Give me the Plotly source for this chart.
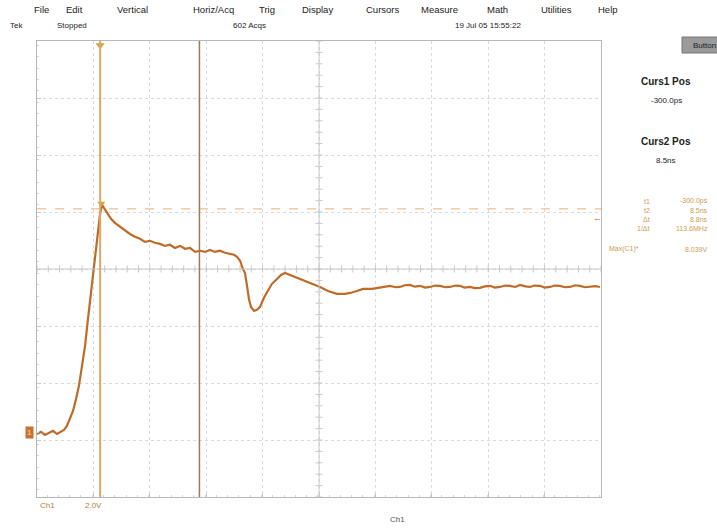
import numpy as np
import plotly.graph_objects as go

# ---------------- data ----------------
time_ns = [-5.9, -5.55, -5.19, -4.84, -4.48, -4.13, -3.77, -3.51, -3.24, -2.97,
           -2.71, -2.44, -2.18, -1.91, -1.64, -1.38, -1.11, -0.85, -0.58, -0.32,
           -0.14, 0.04, 0.31, 0.66, 1.01, 1.46, 1.9, 2.34, 2.79, 3.23,
           3.67, 4.12, 4.56, 5.0, 5.45, 5.89, 6.33, 6.78, 7.22, 7.66,
           8.11, 8.55, 8.99, 9.44, 9.88, 10.32, 10.77, 11.21, 11.56, 11.83,
           12.1, 12.36, 12.54, 12.72, 12.89, 13.07, 13.34, 13.6, 13.87, 14.22,
           14.58, 14.93, 15.38, 15.73, 16.09, 16.53, 17.15, 17.68, 18.3, 18.74,
           19.19, 19.9, 20.7, 21.4, 21.85, 22.47, 23.0, 23.8, 24.51,
           25.0, 25.39, 25.9, 26.28, 26.7, 27.17, 27.6, 28.05, 28.5, 28.94,
           29.4, 29.83, 30.3, 30.71, 31.2, 31.6, 32.0, 32.49, 32.9, 33.37,
           33.8, 34.26, 34.7, 35.14, 35.6, 36.03, 36.5, 36.92, 37.4, 37.8,
           38.2, 38.69, 39.1, 39.58, 40.0, 40.46, 40.9, 41.35, 41.8, 42.23,
           42.7, 43.12, 43.6, 44.0]
volts = [-0.04, 0.04, -0.07, 0.0, 0.07, -0.04, 0.04, 0.1, 0.25, 0.49,
         0.77, 1.19, 1.65, 2.35, 3.05, 4.0, 4.98, 5.96, 6.88, 7.65,
         8.0, 7.89, 7.68, 7.51, 7.37, 7.23, 7.12, 6.98, 6.88, 6.81,
         6.7, 6.74, 6.67, 6.63, 6.56, 6.6, 6.49, 6.56, 6.46, 6.49,
         6.35, 6.39, 6.35, 6.42, 6.35, 6.39, 6.32, 6.28, 6.25, 6.18,
         6.04, 5.75, 5.61, 5.16, 4.7, 4.42, 4.28, 4.32, 4.42, 4.74,
         4.98, 5.23, 5.4, 5.54, 5.61, 5.54, 5.44, 5.37, 5.26, 5.19,
         5.12, 4.98, 4.88, 4.88, 4.91, 4.98, 5.05, 5.05, 5.09,
         5.14, 5.16, 5.11, 5.12, 5.18, 5.19, 5.13, 5.16, 5.1, 5.12,
         5.17, 5.16, 5.11, 5.12, 5.17, 5.16, 5.1, 5.12, 5.08, 5.09,
         5.14, 5.16, 5.1, 5.12, 5.17, 5.16, 5.12, 5.19, 5.14, 5.12,
         5.17, 5.16, 5.1, 5.12, 5.17, 5.16, 5.11, 5.12, 5.18, 5.16,
         5.11, 5.12, 5.15, 5.12]

cursor1_ns = -0.3
cursor2_ns = 8.5
max_level_v = 7.86

menu_items = ["File", "Edit", "Vertical", "Horiz/Acq", "Trig", "Display",
              "Cursors", "Measure", "Math", "Utilities", "Help"]
menu_x = [38, 70, 121, 197, 263, 306, 370, 425, 491, 545, 602]

meas_labels = ["t1", "t2", "Δt", "1/Δt"]
meas_values = ["-300.0ps", "8.5ns", "8.8ns", "113.6MHz"]

# ---------------- layout constants ----------------
W, H = 717, 528
L, R, T, B = 37, 601, 41, 497
X0, X1 = -5.9, 44.1
Y0, Y1 = -2.25, 13.75

TRACE = "#c06a28"
ORANGE = "#e39a3c"
BROWN = "#9b7a5c"
GRID = "#dadada"
TXT = "#222222"
MEAS = "#d09a50"

fig = go.Figure()

# center graticule lines with minor ticks
xc = (X0 + X1) / 2
yc = Y0 + 4 * 2.0
fig.add_shape(type="line", x0=X0, x1=X1, y0=yc, y1=yc, line=dict(color="#c8c8c8", width=1))
fig.add_shape(type="line", x0=xc, x1=xc, y0=Y0, y1=Y1, line=dict(color="#c8c8c8", width=1))
mx = np.arange(X0, X1 + 0.01, 1.0)
my = np.arange(Y0, Y1 + 0.01, 0.4)
fig.add_trace(go.Scatter(x=mx, y=[yc] * len(mx), mode="markers",
                         marker=dict(symbol="line-ns", size=5, line=dict(color="#c8c8c8", width=1)),
                         hoverinfo="skip", showlegend=False))
fig.add_trace(go.Scatter(x=[xc] * len(my), y=my, mode="markers",
                         marker=dict(symbol="line-ew", size=5, line=dict(color="#c8c8c8", width=1)),
                         hoverinfo="skip", showlegend=False))

# max level dashed line
fig.add_shape(type="line", x0=X0, x1=X1, y0=max_level_v, y1=max_level_v,
              line=dict(color="#eab27a", width=1, dash="dash"))

# cursors
fig.add_shape(type="line", x0=cursor1_ns, x1=cursor1_ns, y0=Y0, y1=Y1,
              line=dict(color="#d9a86a", width=2))
fig.add_shape(type="line", x0=cursor2_ns, x1=cursor2_ns, y0=Y0, y1=Y1,
              line=dict(color=BROWN, width=1.5))

# waveform
fig.add_trace(go.Scatter(x=time_ns, y=volts, mode="lines",
                         line=dict(color=TRACE, width=2.2), showlegend=False,
                         hoverinfo="skip"))

# trigger / peak markers
fig.add_trace(go.Scatter(x=[cursor1_ns], y=[Y1 - 0.15], mode="markers",
                         marker=dict(symbol="triangle-down", size=8, color=ORANGE),
                         showlegend=False, hoverinfo="skip"))
fig.add_trace(go.Scatter(x=[cursor1_ns + 0.1], y=[8.05], mode="markers",
                         marker=dict(symbol="triangle-down", size=7, color=ORANGE),
                         showlegend=False, hoverinfo="skip"))

fig.update_xaxes(range=[X0, X1], showgrid=True, gridcolor=GRID, griddash="dot",
                 dtick=5, tick0=X0, zeroline=False, showticklabels=False,
                 showline=True, linecolor="#b8b8b8", mirror=True,
                 ticks="inside", ticklen=4, tickcolor="#c8c8c8",
                 minor=dict(dtick=1, ticks="inside", ticklen=2, tickcolor="#d4d4d4"))
fig.update_yaxes(range=[Y0, Y1], showgrid=True, gridcolor=GRID, griddash="dot",
                 dtick=2, tick0=Y0, zeroline=False, showticklabels=False,
                 showline=True, linecolor="#b8b8b8", mirror=True,
                 ticks="inside", ticklen=4, tickcolor="#c8c8c8",
                 minor=dict(dtick=0.4, ticks="inside", ticklen=2, tickcolor="#d4d4d4"))

ann = []
def txt(x, y, s, size=9, color=TXT, bold=False, anchor="left", font="Liberation Sans"):
    ann.append(dict(xref="paper", yref="paper",
                    x=(x - L) / (R - L), y=(B - y) / (B - T),
                    text=("<b>%s</b>" % s) if bold else s, showarrow=False,
                    xanchor=anchor, yanchor="middle",
                    font=dict(size=size, color=color, family=font)))

for m, x in zip(menu_items, menu_x):
    txt(x - 6, 9, m, size=9.5)
txt(8, 26, "Tek", size=8)
txt(55, 26, "Stopped", size=8)
txt(231, 26, "602 Acqs", size=8)
txt(453, 26, "19 Jul 05 15:55:22", size=8)

txt(666, 81, "Curs1 Pos", size=10, bold=True, anchor="center")
txt(666, 101, "-300.0ps", size=8, anchor="center")
txt(666, 141, "Curs2 Pos", size=10, bold=True, anchor="center")
txt(666, 160, "8.5ns", size=8, anchor="center")
for i, (lab, val) in enumerate(zip(meas_labels, meas_values)):
    yy = 201 + 9 * i
    txt(652, yy, lab, size=7, color=MEAS, anchor="right")
    txt(710, yy, val, size=7, color=MEAS, anchor="right")
txt(607, 249, "Max(C1)*", size=7, color=MEAS)
txt(710, 249, "8.039V", size=7, color=MEAS, anchor="right")
txt(591, 218, "←", size=9, color="#b07030", anchor="left")

txt(38, 506, "Ch1", size=8, color="#b08040")
txt(83, 506, "2.0V", size=8, color="#b08040")
txt(388, 519, "Ch1", size=8, color="#555555")

# ground marker
ann.append(dict(xref="paper", yref="y", x=-0.005, y=0.0, text="<b>1</b>", showarrow=False,
                xanchor="right", yanchor="middle", bgcolor="#c9702e",
                font=dict(size=8, color="#f0c090", family="Liberation Sans"),
                borderpad=1))

# "Button" pill
fig.add_shape(type="rect", xref="paper", yref="paper",
              x0=(682 - L) / (R - L), x1=(725 - L) / (R - L),
              y0=(B - 53) / (B - T), y1=(B - 37) / (B - T),
              fillcolor="#9a9a9a", line=dict(color="#777777", width=1))
txt(704, 45, "Button", size=8, color="#222222", anchor="center")

fig.update_layout(width=W, height=H, margin=dict(l=L, r=W - R, t=T, b=H - B),
                  paper_bgcolor="white", plot_bgcolor="white",
                  annotations=ann, showlegend=False)

fig.write_html("out.html", config={"displayModeBar": False},
               post_script="document.body.style.margin='0';document.body.style.padding='0';document.body.style.overflow='hidden';")
